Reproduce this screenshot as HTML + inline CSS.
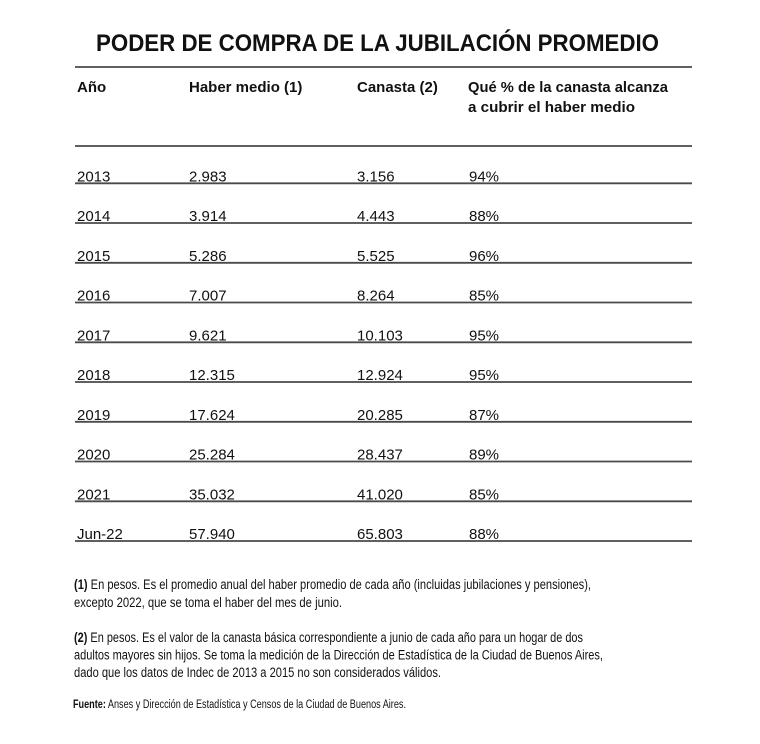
<!DOCTYPE html>
<html>
<head>
<meta charset="utf-8">
<style>
  html, body { margin: 0; padding: 0; background: #ffffff; }
  body { width: 760px; height: 744px; overflow: hidden; }
  svg { display: block; }
  text { font-family: "Liberation Sans", Arial, sans-serif; fill: #111; }
  .h { font-weight: bold; font-size: 15px; }
  .b { font-size: 15px; }
  .f { font-size: 13.5px; }
  .s { font-size: 11.5px; }
</style>
</head>
<body>
<svg width="760" height="744" viewBox="0 0 760 744" xmlns="http://www.w3.org/2000/svg">
  <rect x="0" y="0" width="760" height="744" fill="#ffffff"/>

  <!-- Title -->
  <text x="96" y="51" font-weight="bold" font-size="24" textLength="563" lengthAdjust="spacingAndGlyphs">PODER DE COMPRA DE LA JUBILACIÓN PROMEDIO</text>

  <!-- Lines -->
  <g stroke="#4a4a4a" stroke-width="1.8">
    <line x1="75" y1="67" x2="692" y2="67"/>
    <line x1="75" y1="146" x2="692" y2="146"/>
    <line x1="75" y1="183.3" x2="692" y2="183.3"/>
    <line x1="75" y1="223" x2="692" y2="223"/>
    <line x1="75" y1="262.8" x2="692" y2="262.8"/>
    <line x1="75" y1="302.5" x2="692" y2="302.5"/>
    <line x1="75" y1="342.3" x2="692" y2="342.3"/>
    <line x1="75" y1="382" x2="692" y2="382"/>
    <line x1="75" y1="421.8" x2="692" y2="421.8"/>
    <line x1="75" y1="461.5" x2="692" y2="461.5"/>
    <line x1="75" y1="501.3" x2="692" y2="501.3"/>
    <line x1="75" y1="541" x2="692" y2="541"/>
  </g>

  <!-- Header text -->
  <text class="h" x="77" y="92">Año</text>
  <text class="h" x="189" y="92">Haber medio (1)</text>
  <text class="h" x="357" y="92">Canasta (2)</text>
  <text class="h" x="468" y="92" textLength="200" lengthAdjust="spacingAndGlyphs">Qué % de la canasta alcanza</text>
  <text class="h" x="468" y="112" textLength="167" lengthAdjust="spacingAndGlyphs">a cubrir el haber medio</text>

  <!-- Rows -->
  <g>
    <text class="b" x="77" y="181.5">2013</text><text class="b" x="189" y="181.5">2.983</text><text class="b" x="357" y="181.5">3.156</text><text class="b" x="469" y="181.5">94%</text>
    <text class="b" x="77" y="221.2">2014</text><text class="b" x="189" y="221.2">3.914</text><text class="b" x="357" y="221.2">4.443</text><text class="b" x="469" y="221.2">88%</text>
    <text class="b" x="77" y="261">2015</text><text class="b" x="189" y="261">5.286</text><text class="b" x="357" y="261">5.525</text><text class="b" x="469" y="261">96%</text>
    <text class="b" x="77" y="300.7">2016</text><text class="b" x="189" y="300.7">7.007</text><text class="b" x="357" y="300.7">8.264</text><text class="b" x="469" y="300.7">85%</text>
    <text class="b" x="77" y="340.5">2017</text><text class="b" x="189" y="340.5">9.621</text><text class="b" x="357" y="340.5">10.103</text><text class="b" x="469" y="340.5">95%</text>
    <text class="b" x="77" y="380.2">2018</text><text class="b" x="189" y="380.2">12.315</text><text class="b" x="357" y="380.2">12.924</text><text class="b" x="469" y="380.2">95%</text>
    <text class="b" x="77" y="420">2019</text><text class="b" x="189" y="420">17.624</text><text class="b" x="357" y="420">20.285</text><text class="b" x="469" y="420">87%</text>
    <text class="b" x="77" y="459.7">2020</text><text class="b" x="189" y="459.7">25.284</text><text class="b" x="357" y="459.7">28.437</text><text class="b" x="469" y="459.7">89%</text>
    <text class="b" x="77" y="499.5">2021</text><text class="b" x="189" y="499.5">35.032</text><text class="b" x="357" y="499.5">41.020</text><text class="b" x="469" y="499.5">85%</text>
    <text class="b" x="77" y="539.2">Jun-22</text><text class="b" x="189" y="539.2">57.940</text><text class="b" x="357" y="539.2">65.803</text><text class="b" x="469" y="539.2">88%</text>
  </g>

  <!-- Footnotes -->
  <text class="f" x="74" y="589" textLength="517" lengthAdjust="spacingAndGlyphs"><tspan font-weight="bold">(1)</tspan> En pesos. Es el promedio anual del haber promedio de cada año (incluidas jubilaciones y pensiones),</text>
  <text class="f" x="74" y="607" textLength="268" lengthAdjust="spacingAndGlyphs">excepto 2022, que se toma el haber del mes de junio.</text>

  <text class="f" x="74" y="642" textLength="509" lengthAdjust="spacingAndGlyphs"><tspan font-weight="bold">(2)</tspan> En pesos. Es el valor de la canasta básica correspondiente a junio de cada año para un hogar de dos</text>
  <text class="f" x="74" y="659.5" textLength="529" lengthAdjust="spacingAndGlyphs">adultos mayores sin hijos. Se toma la medición de la Dirección de Estadística de la Ciudad de Buenos Aires,</text>
  <text class="f" x="74" y="677" textLength="367" lengthAdjust="spacingAndGlyphs">dado que los datos de Indec de 2013 a 2015 no son considerados válidos.</text>

  <text class="s" x="73" y="708" textLength="333" lengthAdjust="spacingAndGlyphs"><tspan font-weight="bold">Fuente:</tspan> Anses y Dirección de Estadística y Censos de la Ciudad de Buenos Aires.</text>
</svg>
</body>
</html>
